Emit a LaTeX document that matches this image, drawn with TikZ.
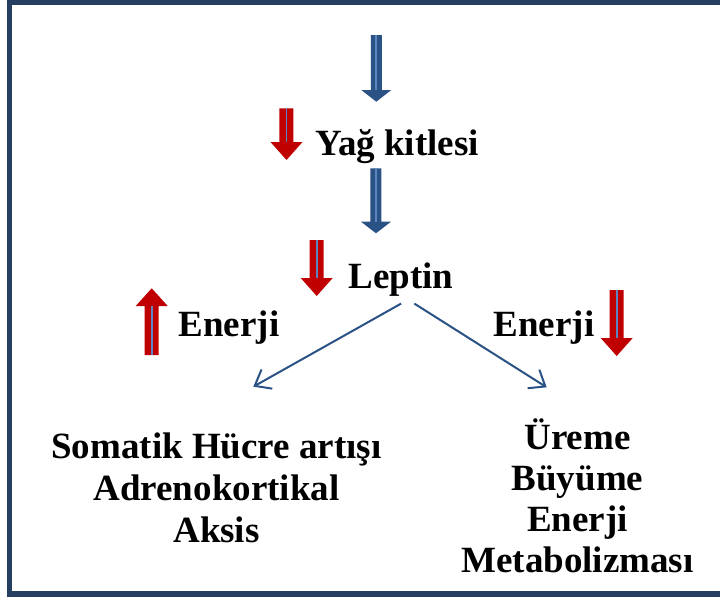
\documentclass[tikz,border=0pt]{standalone}
\usepackage{fontspec}
\setmainfont{Liberation Serif}
\usepackage{xcolor}
\usetikzlibrary{arrows.meta}
\definecolor{cerceve}{HTML}{243F60}
\definecolor{koyumavi}{HTML}{2A5285}
\definecolor{acikmavi}{HTML}{5B86C0}
\definecolor{kirmizi}{HTML}{C00000}
\tikzset{
    yazi/.style = {font=\fontsize{18.5}{21}\selectfont\bfseries, inner sep=0pt},
    ince/.style = {koyumavi, line width=1pt, -{Straight Barb[length=7pt,width=11pt]}},
    serit/.style = {acikmavi, line width=0.9pt},
}
% blok ok: x, kuyruk, bas tabani, uc, renk, govde yari genislik, bas yari genislik
\newcommand{\blokok}[7]{%
    \fill[#5] ({#1-#6},#2) -- ({#1+#6},#2) -- ({#1+#6},#3) -- ({#1+#7},#3) -- (#1,#4) -- ({#1-#7},#3) -- ({#1-#6},#3) -- cycle;
    \draw[serit] (#1,#2) -- (#1,#3);
}

\begin{document}
\begin{tikzpicture}[x = 0.5pt, y = -0.5pt]
    \useasboundingbox (0,0) rectangle (720,601);
    % Cerceve
    \draw[cerceve, line width=2.75pt] (720,2.2) -- (9.3,2.2) -- (9.3,594) -- (720,594);

    % Yukaridan asagi
    \blokok{376.3}{35}{90}{101.7}{koyumavi}{5.5}{15}
    \blokok{286.5}{108.3}{142}{160}{kirmizi}{7}{16}
    \node[yazi, anchor=base west] (yag) at (315,155) {Yağ kitlesi};
    \blokok{376}{168.3}{221.7}{233.3}{koyumavi}{5.5}{15}
    \blokok{316.7}{240}{278}{296}{kirmizi}{7}{16}
    \node[yazi, anchor=base west] (leptin) at (348.3,288.3) {Leptin};

    % Enerji
    \blokok{151.7}{355}{306}{288.3}{kirmizi}{7}{16}
    \node[yazi, anchor=base west] (enerjiSol) at (178.3,336.7) {Enerji};
    \node[yazi, anchor=base west] (enerjiSag) at (493.3,336.7) {Enerji};
    \blokok{616.7}{290}{338}{356}{kirmizi}{7}{16}

    % Dallar
    \node[yazi, align=center, anchor=north] (sol) at (216.5,432) {Somatik Hücre artışı\\Adrenokortikal\\Aksis};
    \node[yazi, align=center, anchor=north, font=\fontsize{18.5}{20.5}\selectfont\bfseries] (sag) at (577.5,418) {Üreme\\Büyüme\\Enerji\\Metabolizması};
    \coordinate (solUc) at (253.3,386.7);
    \coordinate (sagUc) at (546.7,387.3);
    \draw[ince] ([yshift=-3.5pt]leptin.south) -- (solUc);
    \draw[ince] ([xshift=6.6pt,yshift=-3.5pt]leptin.south) -- (sagUc);
\end{tikzpicture}
\end{document}
